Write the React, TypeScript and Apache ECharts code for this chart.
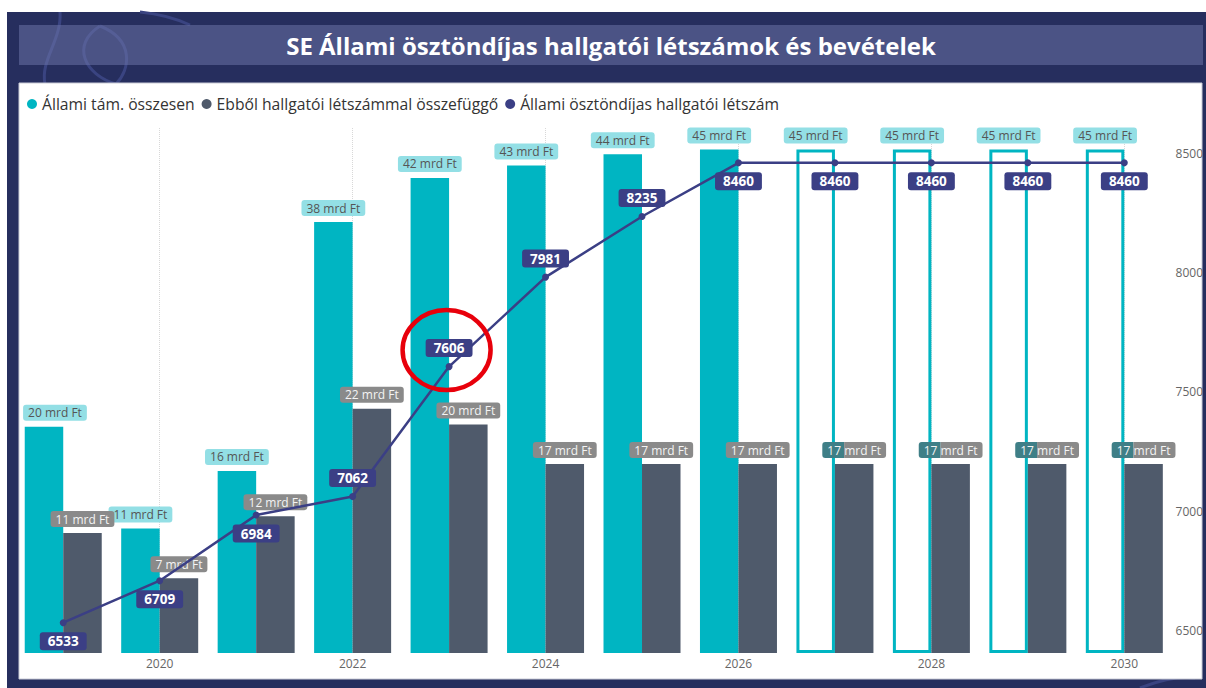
import React, { useEffect, useRef } from 'react';
import * as echarts from 'echarts';

const years = ['2019', '2020', '2021', '2022', '2023', '2024', '2025', '2026', '2027', '2028', '2029', '2030'];
// Állami tám. összesen (mrd Ft)
const totalSupport = [20.0, 11.0, 16.1, 38.1, 42.0, 43.1, 44.1, 44.5, 44.5, 44.5, 44.5, 44.5];
// Ebből hallgatói létszámmal összefüggő (mrd Ft)
const studentLinked = [10.6, 6.6, 12.1, 21.6, 20.2, 16.7, 16.7, 16.7, 16.7, 16.7, 16.7, 16.7];
// Állami ösztöndíjas hallgatói létszám (fő)
const studentCount = [6533, 6709, 6984, 7062, 7606, 7981, 8235, 8460, 8460, 8460, 8460, 8460];
const projected = [false, false, false, false, false, false, false, false, true, true, true, true];
const countLabelAbove = [false, false, false, true, true, true, true, false, false, false, false, false];
const seriesNames = [
  'Állami tám. összesen',
  'Ebből hallgatói létszámmal összefüggő',
  'Állami ösztöndíjas hallgatói létszám',
];
const chartTitle = 'SE Állami ösztöndíjas hallgatói létszámok és bevételek';
const highlightIndex = 4;

const TEAL = '#00b5c2';
const GRAY = '#4f5a6b';
const NAVY = '#3b3f85';
const FONT = '"Open Sans", "Noto Sans", sans-serif';

export default function App() {
  const ref = useRef<HTMLDivElement>(null);
  useEffect(() => {
    const chart = echarts.init(ref.current!, null, { renderer: 'svg', width: 1206, height: 688 });
    const mrd = (v: number) => `${Math.round(v)} mrd Ft`;

    const background: any[] = [
      { type: 'rect', z: -10, silent: true, shape: { x: 7, y: 12, width: 1199, height: 676 }, style: { fill: '#262e5e' } },
      { type: 'bezierCurve', z: -9, silent: true, shape: { x1: 100, y1: 26, x2: 116, y2: 84, cpx1: 70, cpy1: 45, cpx2: 85, cpy2: 75 }, style: { stroke: '#3a4481', lineWidth: 3, fill: 'none' } },
      { type: 'bezierCurve', z: -9, silent: true, shape: { x1: 100, y1: 26, x2: 116, y2: 84, cpx1: 135, cpy1: 40, cpx2: 130, cpy2: 70 }, style: { stroke: '#3a4481', lineWidth: 3, fill: 'none' } },
      { type: 'bezierCurve', z: -9, silent: true, shape: { x1: 60, y1: 12, x2: 45, y2: 84, cpx1: 62, cpy1: 40, cpx2: 40, cpy2: 60 }, style: { stroke: '#3a4481', lineWidth: 3, fill: 'none' } },
      { type: 'bezierCurve', z: -9, silent: true, shape: { x1: 140, y1: 12, x2: 190, y2: 25, cpx1: 160, cpy1: 14, cpx2: 175, cpy2: 18 }, style: { stroke: '#3a4481', lineWidth: 3, fill: 'none' } },
      { type: 'bezierCurve', z: -9, silent: true, shape: { x1: 1140, y1: 688, x2: 1195, y2: 678, cpx1: 1160, cpy1: 680, cpx2: 1180, cpy2: 676 }, style: { stroke: '#3a4481', lineWidth: 3, fill: 'none' } },
      { type: 'rect', z: -8, silent: true, shape: { x: 19, y: 25, width: 1184, height: 40 }, style: { fill: 'rgba(112,120,172,0.5)' } },
      { type: 'rect', z: -8, silent: true, shape: { x: 19, y: 83, width: 1183, height: 596 }, style: { fill: '#ffffff', stroke: '#c9cbd6', lineWidth: 1 } },
      {
        type: 'text', z: -7, silent: true, x: 611, y: 45,
        style: { text: chartTitle, fill: '#ffffff', font: `bold 24px ${FONT}`, textAlign: 'center', textVerticalAlign: 'middle' },
      },
    ];

    const option: any = {
      animation: false,
      backgroundColor: '#ffffff',
      textStyle: { fontFamily: FONT },
      graphic: { elements: background },
      legend: {
        left: 22,
        top: 91,
        icon: 'circle',
        itemWidth: 10,
        itemHeight: 10,
        itemGap: 7,
        textStyle: { fontSize: 15.7, color: '#333', fontFamily: FONT },
        data: seriesNames,
      },
      grid: { left: 15, right: 31, top: 127, bottom: 35, containLabel: false },
      xAxis: {
        type: 'category',
        data: years,
        axisLine: { show: false },
        axisTick: { show: false },
        splitLine: { show: false },
        axisLabel: {
          interval: (i: number) => i % 2 === 1,
          color: '#666',
          fontSize: 12,
          margin: 4,
        },
      },
      yAxis: [
        { type: 'value', min: 0, max: 46.5, show: false },
        {
          type: 'value',
          position: 'right',
          min: 6406,
          max: 8610,
          splitLine: { show: false },
          axisLine: { show: false },
          axisTick: { show: false },
          axisLabel: {
            showMinLabel: false,
            showMaxLabel: false,
            formatter: (v: number) => (v % 500 === 0 ? String(v) : ''),
            color: '#666',
            fontSize: 12,
            margin: 3,
          },
        },
      ],
      series: [
        {
          name: seriesNames[0],
          type: 'bar',
          yAxisIndex: 0,
          barWidth: 38.5,
          barGap: '0%',
          itemStyle: { color: TEAL },
          label: {
            show: true,
            position: 'top',
            distance: 6,
            formatter: (p: any) => mrd(p.value),
            backgroundColor: '#93dfe5',
            color: '#555',
            fontSize: 12,
            padding: [2, 5],
            borderRadius: 3,
          },
          data: totalSupport.map((v, i) => {
            const item: any = { value: v };
            if (projected[i]) item.itemStyle = { color: '#ffffff', borderColor: TEAL, borderWidth: 3 };
            if (i === 0) item.label = { offset: [11, 0] };
            return item;
          }),
        },
        {
          name: seriesNames[1],
          type: 'bar',
          yAxisIndex: 0,
          barWidth: 38.5,
          barGap: '0%',
          itemStyle: { color: GRAY },
          label: {
            show: true,
            position: 'top',
            distance: 6,
            formatter: (p: any) => mrd(p.value),
            backgroundColor: '#8a8a8a',
            color: '#f4f4f4',
            fontSize: 12,
            padding: [2, 5],
            borderRadius: 3,
          },
          data: studentLinked.map((v, i) => {
            const item: any = { value: v };
            if (projected[i]) {
              item.label = {
                backgroundColor: 'transparent',
                padding: 0,
                formatter: `{a|${Math.round(v)} }{b|mrd Ft}`,
                rich: {
                  a: { backgroundColor: '#3f7f87', color: '#f4f4f4', fontSize: 12, padding: [2, 0, 2, 5], borderRadius: [3, 0, 0, 3] },
                  b: { backgroundColor: '#8a8a8a', color: '#f4f4f4', fontSize: 12, padding: [2, 5, 2, 0], borderRadius: [0, 3, 3, 0] },
                },
              };
            }
            return item;
          }),
        },
        {
          name: seriesNames[2],
          type: 'line',
          yAxisIndex: 1,
          z: 5,
          symbol: 'circle',
          symbolSize: 7,
          lineStyle: { color: NAVY, width: 2.5 },
          itemStyle: { color: NAVY },
          label: {
            show: true,
            distance: 6,
            backgroundColor: NAVY,
            color: '#ffffff',
            fontWeight: 'bold',
            fontSize: 13.5,
            padding: [2, 8],
            borderRadius: 3,
          },
          markLine: {
            silent: true,
            z: 1,
            symbol: ['none', 'none'],
            label: { show: false },
            lineStyle: { type: 'dotted', color: '#d8d8d8', width: 1 },
            emphasis: { disabled: true },
            data: years.map((_, i) => i).filter((i) => i % 2 === 1).map((i) => ({ xAxis: i })),
          },
          data: studentCount.map((v, i) => ({ value: v, label: { position: countLabelAbove[i] ? 'top' : 'bottom' } })),
        },
      ],
    };

    chart.setOption(option);
    const p = chart.convertToPixel({ xAxisIndex: 0, yAxisIndex: 1 }, [years[highlightIndex], studentCount[highlightIndex]]) as number[];
    option.graphic = {
      elements: [
        ...background,
        {
          type: 'ellipse', z: 100, silent: true,
          shape: { cx: p[0] - 2.5, cy: p[1] - 16.5, rx: 44, ry: 40 },
          style: { fill: 'none', stroke: '#e8000b', lineWidth: 4.5 },
        },
      ],
    };
    chart.setOption(option, true);
    return () => chart.dispose();
  }, []);
  return <div ref={ref} style={{ position: 'fixed', left: 0, top: 0, width: 1206, height: 688 }} />;
}
